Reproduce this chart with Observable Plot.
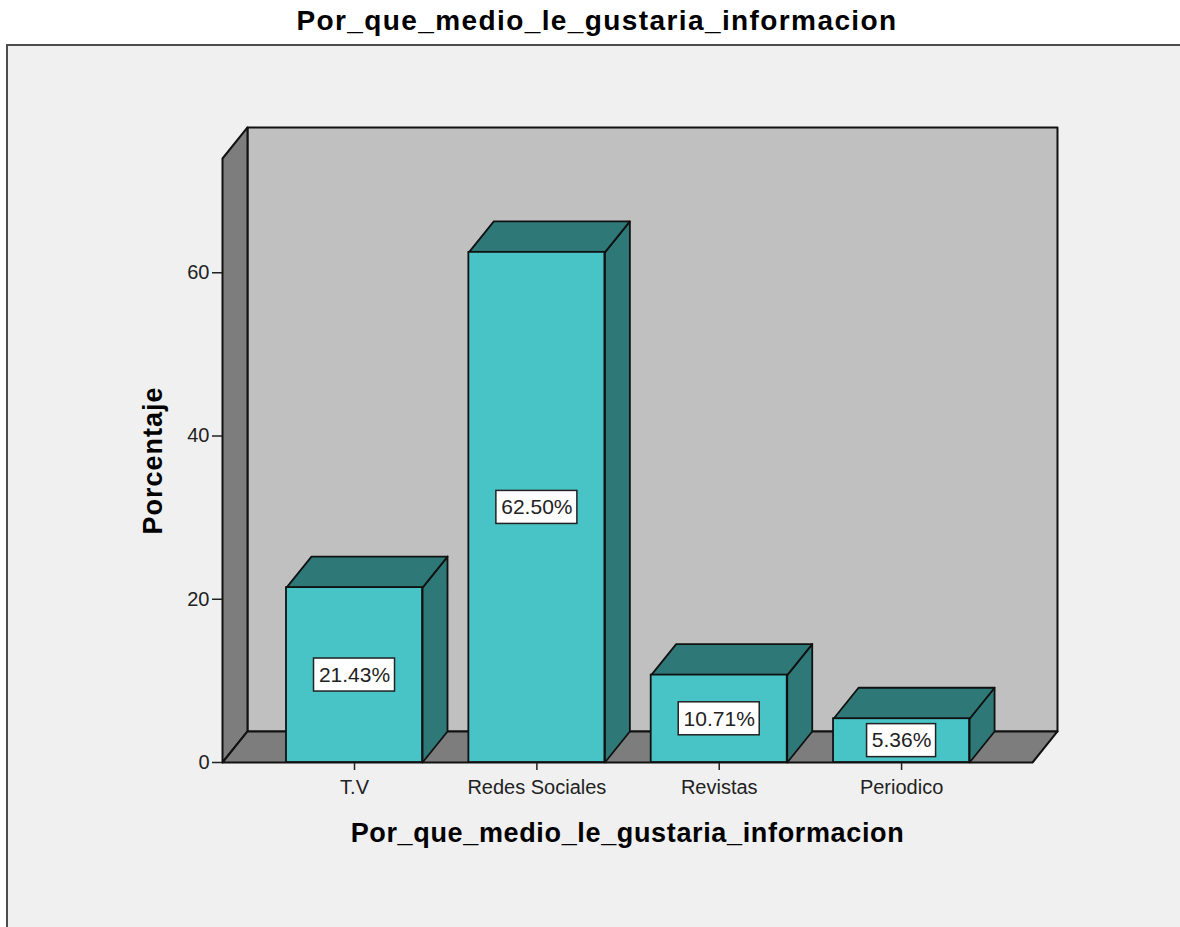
<!DOCTYPE html>
<html>
<head>
<meta charset="utf-8">
<script src="https://cdn.jsdelivr.net/npm/d3@7"></script>
<script src="https://cdn.jsdelivr.net/npm/@observablehq/plot@0.6"></script>
<style>
  html, body { margin: 0; padding: 0; background: #ffffff; overflow: hidden; }
  body { width: 1180px; height: 927px; position: relative; font-family: "Liberation Sans", Arial, sans-serif; }
  #title {
    position: absolute; left: 0; top: 0; width: 1194px; height: 44px;
    text-align: center; line-height: 42px;
    font-size: 28px; font-weight: bold; letter-spacing: 1.4px; color: #000;
  }
  #frame {
    position: absolute; left: 6px; top: 44px; width: 1200px; height: 900px;
    border-left: 2px solid #4d4d4d; border-top: 2px solid #4d4d4d;
    background: #f0f0f0;
  }
  #chart { position: absolute; left: 0; top: 45px; }
</style>
</head>
<body>
<div id="title">Por_que_medio_le_gustaria_informacion</div>
<div id="frame"></div>
<div id="chart"></div>
<script>
// Categories and their percentages
const categories = ["T.V", "Redes Sociales", "Revistas", "Periodico"];
const percentages = [21.43, 62.50, 10.71, 5.36];
const valueLabels = ["21.43%", "62.50%", "10.71%", "5.36%"];
const yTicks = [0, 20, 40, 60];
const axisTitleX = "Por_que_medio_le_gustaria_informacion";
const axisTitleY = "Porcentaje";

// Box geometry (category index on x, percentage on y)
const xDomain = [-0.724, 3.718];
const yDomain = [0, 74];
const halfBar = 0.373;          // half the bar width, in category steps
const depthX = 0.137;           // oblique depth offset, x
const depthY = 3.8;             // oblique depth offset, y

const W = 1180, H = 882;
const margins = {left: 222, right: 148, top: 113, bottom: 165};
const pxPerX = (W - margins.left - margins.right) / (xDomain[1] - xDomain[0]);
const pxPerY = (H - margins.top - margins.bottom) / (yDomain[1] - yDomain[0]);

const poly = (id, pts) => pts.map(([x, y]) => ({id, x, y}));
const [x0, x1] = xDomain;
const yMax = yDomain[1];

const backWall = poly("back", [[x0 + depthX, depthY], [x1 + depthX, depthY], [x1 + depthX, yMax + depthY], [x0 + depthX, yMax + depthY]]);
const leftWall = poly("left", [[x0, 0], [x0, yMax], [x0 + depthX, yMax + depthY], [x0 + depthX, depthY]]);
const floor = poly("floor", [[x0, 0], [x1, 0], [x1 + depthX, depthY], [x0 + depthX, depthY]]);

const bars = percentages.map((v, i) => ({i, v, label: valueLabels[i], name: categories[i]}));
const sides = bars.flatMap(({i, v}) => poly("side" + i,
  [[i + halfBar, 0], [i + halfBar, v], [i + halfBar + depthX, v + depthY], [i + halfBar + depthX, depthY]]));
const tops = bars.flatMap(({i, v}) => poly("top" + i,
  [[i - halfBar, v], [i + halfBar, v], [i + halfBar + depthX, v + depthY], [i - halfBar + depthX, v + depthY]]));

// Label boxes sized from the label length (pixels converted to data units)
const boxHalfW = (d) => (12 * d.label.length + 9) / 2 / pxPerX;
const boxHalfH = 16.5 / pxPerY;

const faceStyle = {x: "x", y: "y", z: "id", curve: "linear-closed", stroke: "#111", strokeWidth: 2, strokeLinejoin: "round"};

const chart = Plot.plot({
  width: W,
  height: H,
  marginLeft: margins.left,
  marginRight: margins.right,
  marginTop: margins.top,
  marginBottom: margins.bottom,
  style: {background: "transparent", fontFamily: "'Liberation Sans', Arial, sans-serif", fontSize: "20px", color: "#111"},
  x: {domain: xDomain, axis: null},
  y: {domain: yDomain, axis: null},
  marks: [
    Plot.line(backWall, {...faceStyle, fill: "#c0c0c0"}),
    Plot.line(leftWall, {...faceStyle, fill: "#7d7d7d"}),
    Plot.line(floor, {...faceStyle, fill: "#7d7d7d"}),
    Plot.axisY({ticks: yTicks, tickSize: 10, tickPadding: 3, tickFormat: d3.format("d"), label: null, fill: "#222", stroke: "#222", strokeWidth: 1.5}),
    Plot.axisX({ticks: [0, 1, 2, 3], tickFormat: (i) => categories[i], tickSize: 8, tickPadding: 9, label: null, fill: "#222", stroke: "#222", strokeWidth: 1.5}),
    Plot.line(sides, {...faceStyle, fill: "#2e7878", strokeWidth: 1.8}),
    Plot.line(tops, {...faceStyle, fill: "#2e7878", strokeWidth: 1.8}),
    Plot.rect(bars, {x1: (d) => d.i - halfBar, x2: (d) => d.i + halfBar, y1: 0, y2: "v", fill: "#48c3c6", stroke: "#111", strokeWidth: 1.8}),
    Plot.rect(bars, {
      x1: (d) => d.i - boxHalfW(d), x2: (d) => d.i + boxHalfW(d),
      y1: (d) => d.v / 2 - boxHalfH, y2: (d) => d.v / 2 + boxHalfH,
      fill: "white", stroke: "#222", strokeWidth: 1.5
    }),
    Plot.text(bars, {x: "i", y: (d) => d.v / 2, text: "label", fontSize: 21, fill: "#222"}),
    Plot.text([axisTitleY], {frameAnchor: "left", dx: -69, rotate: -90, textAnchor: "middle", lineAnchor: "middle", fontSize: 27, fontWeight: "bold", fill: "#000"}),
    Plot.text([axisTitleX], {frameAnchor: "bottom", dy: 71, textAnchor: "middle", lineAnchor: "middle", fontSize: 27, fontWeight: "bold", fill: "#000"})
  ]
});
chart.querySelectorAll("text").forEach((t) => {
  if (t.textContent === axisTitleX) t.setAttribute("letter-spacing", "0.65px");
  if (t.textContent === axisTitleY) t.setAttribute("letter-spacing", "1px");
});
document.getElementById("chart").appendChild(chart);
</script>
</body>
</html>
